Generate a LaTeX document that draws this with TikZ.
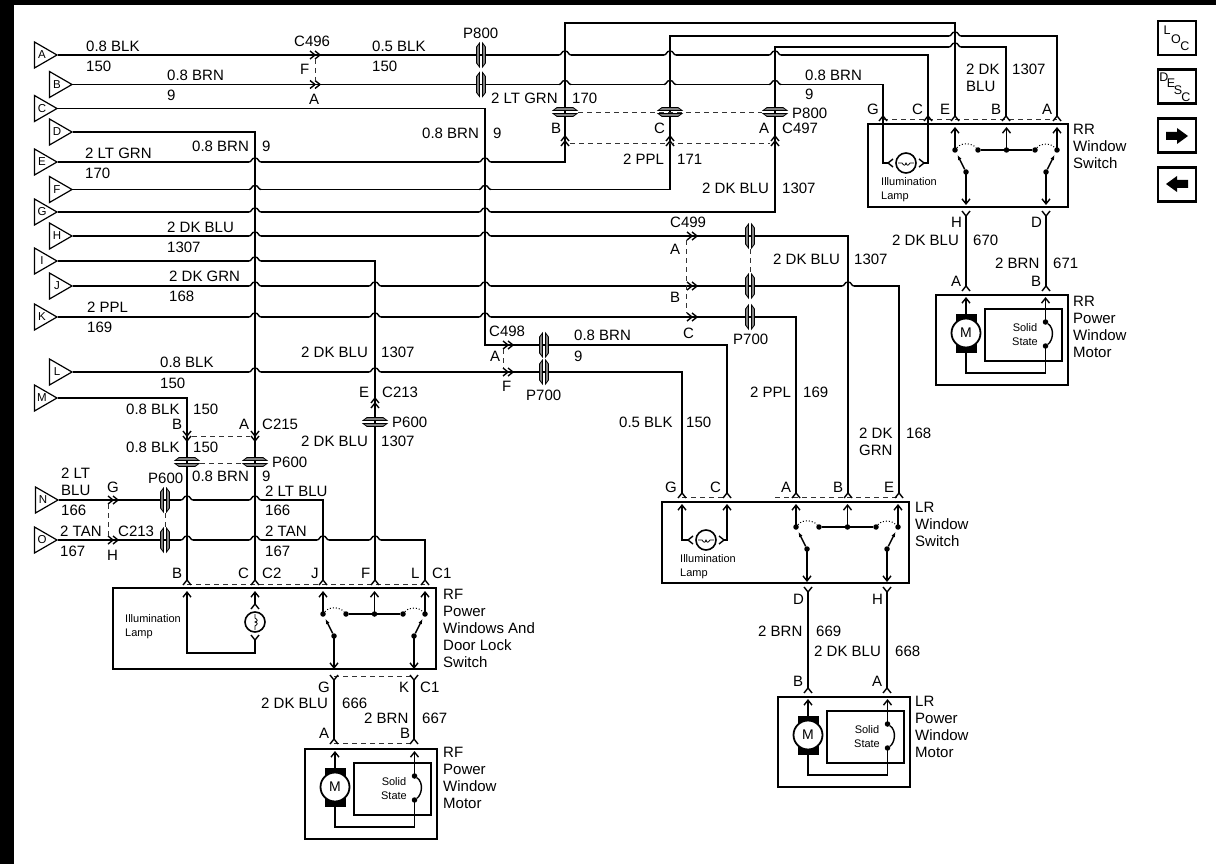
\documentclass[tikz,border=0pt]{standalone}
\usepackage{fontspec}
\setmainfont{Liberation Sans}
\usetikzlibrary{arrows.meta,shapes.geometric}

\tikzset{
  wire/.style={line width=1.4pt,line join=miter},
  hint/.style={line width=1pt,dash pattern=on 5pt off 4pt,black!80},
  barb/.style={-{Straight Barb[length=5pt,width=8pt]}},
  lbl/.style={anchor=west,inner sep=0pt,text height=10.7pt,text depth=0pt,font=\fontsize{15}{17}\selectfont},
  mlbl/.style={anchor=north west,inner sep=0pt,align=left,font=\fontsize{15}{17}\selectfont},
  slbl/.style={anchor=north west,inner sep=0pt,align=left,font=\fontsize{11}{14}\selectfont},
  ctxt/.style={inner sep=0pt,font=\fontsize{11}{14}\selectfont},
  icontxt/.style={inner sep=0pt,font=\fontsize{12.5}{14}\selectfont},
  term/.style={draw,line width=1.2pt,regular polygon,regular polygon sides=3,shape border rotate=-90,
    minimum size=30pt,inner sep=0pt,font=\fontsize{11.5}{12}\selectfont},
  modbox/.style={draw,line width=2.6pt,inner sep=0pt},
  iconbox/.style={draw,line width=2.6pt,inner sep=0pt,minimum width=38pt,minimum height=34pt},
  dot/.style={circle,fill,inner sep=0pt,minimum size=5.5pt},
  chev/.pic={\draw[wire] (-5,-4) -- (0,0) -- (-5,4);},
  dblchev/.pic={\draw[wire] (-5,-4) -- (0,0) -- (-5,4) (0,-4) -- (5,0) -- (0,4);},
  hop/.pic={\fill[white] (-6,-1.5) rectangle (6,1.5);
    \draw[wire] (-6,0) .. controls (-3,0) and (-4,-4) .. (0,-4) .. controls (4,-4) and (3,0) .. (6,0);
    \draw[wire] (0,-6) -- (0,6);},
  capsule/.pic={\fill[white] (-1.5,-9) rectangle (1.5,9);
    \draw[line width=.8pt,fill=black!50] (-4.5,-8) -- (-1.5,-12) -- (-1.5,12) -- (-4.5,8) -- cycle;
    \draw[line width=.8pt,fill=black!50] (4.5,-8) -- (1.5,-12) -- (1.5,12) -- (4.5,8) -- cycle;
    \draw[wire] (-1.5,0) -- (1.5,0);},
  lamp/.pic={\draw[line width=1.6pt] (0,0) circle (10);
    \draw[line width=.8pt] (-8,0) -- (-4,0) .. controls (-2,3) and (-1,3) .. (0,0) .. controls (1,3) and (2,3) .. (4,0) -- (8,0);
    \draw[wire] (-13,-4) -- (-18,0) -- (-13,4) (13,-4) -- (18,0) -- (13,4);
    \coordinate (-w) at (-18,0);
    \coordinate (-e) at (18,0);},
  winsw/.pic={\node[dot] (-l) at (0,0) {};
    \node[dot] (-a) at (23,0) {};
    \node[dot] (-m) at (51.5,0) {};
    \node[dot] (-b) at (80,0) {};
    \node[dot] (-r) at (102,0) {};
    \node[dot] (-p) at (11,22) {};
    \node[dot] (-q) at (91,22) {};
    \coordinate (-tl) at (0,-23);
    \coordinate (-tm) at (51.5,-23);
    \coordinate (-tr) at (102,-23);
    \coordinate (-bl) at (11,55);
    \coordinate (-br) at (91,55);
    \coordinate (-u) at (2.5,5);
    \coordinate (-v) at (99.5,5);
    \draw[wire,barb] (-l.center) -- (-tl);
    \draw[wire,barb] (-m.center) -- (-tm);
    \draw[wire,barb] (-r.center) -- (-tr);
    \draw[wire,barb] (-p.center) -- (-bl);
    \draw[wire,barb] (-q.center) -- (-br);
    \draw[wire] (-a) -- (-b);
    \draw[wire,-{Latex[length=5pt,width=4pt]}] (-p) -- (-u);
    \draw[wire,-{Latex[length=5pt,width=4pt]}] (-q) -- (-v);
    \draw[line width=1pt,dotted] (-l) to[out=50,in=130] (-a);
    \draw[line width=1pt,dotted] (-b) to[out=50,in=130] (-r);},
  winmot/.pic={\node[modbox,minimum width=132pt,minimum height=90pt] (-box) at (36,7) {};
    \node[modbox,minimum width=77pt,minimum height=52pt] (-ss) at (57.5,2) {};
    \fill (-10,-19) rectangle (11,20);
    \coordinate (-ta) at (0,-36);
    \coordinate (-tb) at (79.5,-36);
    \coordinate (-cl) at (0,40);
    \coordinate (-cr) at (79.5,40);
    \node[dot] (-d1) at (79.5,-11) {};
    \node[dot] (-d2) at (79.5,13) {};
    \draw[wire,barb] (0,0) -- (-ta);
    \draw[wire] (0,0) -- (-cl) -- (-cr) -- (-d2.center);
    \draw[wire,barb] (-d1.center) -- (-tb);
    \draw[wire] (-d1) to[out=-35,in=35] (-d2);
    \node[circle,draw,line width=1.8pt,fill=white,minimum size=29pt,inner sep=0pt,font=\fontsize{14}{14}\selectfont] (-mm) at (0,0) {M};
    \node[ctxt] (-s1) at (59,-5) {Solid};
    \node[ctxt] (-s2) at (59,9) {State};},
}

\begin{document}
\begin{tikzpicture}[x=1pt,y=-1pt]
\useasboundingbox (0,0) rectangle (1216,864);
\fill[white] (0,0) rectangle (1216,864);
\fill (0,0) rectangle (1216,4.7);
\fill (0,0) rectangle (14,864);

% harness side
\node[term] (tA) at (42,55) {A};
\node[term] (tB) at (57,84.5) {B};
\node[term] (tC) at (42,108.5) {C};
\node[term] (tD) at (57,132) {D};
\node[term] (tE) at (42,162) {E};
\node[term] (tF) at (57,189.5) {F};
\node[term] (tG) at (42,212) {G};
\node[term] (tH) at (57,236) {H};
\node[term] (tI) at (42,261) {I};
\node[term] (tJ) at (57,286) {J};
\node[term] (tK) at (42,317) {K};
\node[term] (tL) at (57,372) {L};
\node[term] (tM) at (42,398) {M};
\node[term] (tN) at (43,500) {N};
\node[term] (tO) at (42,540) {O};

% pins
\coordinate (rrG) at (883,116);
\coordinate (rrC) at (928,116);
\coordinate (rrE) at (955,116);
\coordinate (rrB) at (1006,116);
\coordinate (rrA) at (1057,116);
\coordinate (lrG) at (682,493);
\coordinate (lrC) at (727,493);
\coordinate (lrA) at (796,493);
\coordinate (lrB) at (848,493);
\coordinate (lrE) at (899,493);
\coordinate (rfB) at (187,580);
\coordinate (rfC) at (255,580);
\coordinate (rfJ) at (323,580);
\coordinate (rfF) at (375,580);
\coordinate (rfL) at (425,580);
\coordinate (topE) at (565,23);
\coordinate (topF) at (670,36);
\coordinate (topG) at (775,47);
\coordinate (midC) at (485,345);

% wires
\draw[wire] (tA.east) -| (rrC);
\draw[wire] (tB.east) -| (rrG);
\draw[wire] (tC.east) -| (midC) -| (lrC);
\draw[wire] (tD.east) -| (rfC);
\draw[wire] (tE.east) -| (topE) -| (rrE);
\draw[wire] (tF.east) -| (topF) -| (rrA);
\draw[wire] (tG.east) -| (topG) -| (rrB);
\draw[wire] (tH.east) -| (lrB);
\draw[wire] (tI.east) -| (rfF);
\draw[wire] (tJ.east) -| (lrE);
\draw[wire] (tK.east) -| (lrA);
\draw[wire] (tL.east) -| (lrG);
\draw[wire] (tM.east) -| (rfB);
\draw[wire] (tN.east) -| (rfJ);
\draw[wire] (tO.east) -| (rfL);

% crossings
\pic at (255,162) {hop};
\pic at (255,189.5) {hop};
\pic at (255,212) {hop};
\pic at (255,236) {hop};
\pic at (255,261) {hop};
\pic at (255,286) {hop};
\pic at (255,317) {hop};
\pic at (255,372) {hop};
\pic at (255,500) {hop};
\pic at (255,540) {hop};
\pic at (375,286) {hop};
\pic at (375,317) {hop};
\pic at (375,372) {hop};
\pic at (375,540) {hop};
\pic at (485,162) {hop};
\pic at (485,189.5) {hop};
\pic at (485,212) {hop};
\pic at (485,236) {hop};
\pic at (485,286) {hop};
\pic at (485,317) {hop};
\pic at (565,55) {hop};
\pic at (565,84.5) {hop};
\pic at (670,55) {hop};
\pic at (670,84.5) {hop};
\pic at (775,55) {hop};
\pic at (775,84.5) {hop};
\pic at (955,36) {hop};
\pic at (955,47) {hop};
\pic at (848,286) {hop};
\pic at (187,500) {hop};
\pic at (187,540) {hop};
\pic at (323,540) {hop};

% inline connectors
\pic at (315,55) {dblchev};
\pic at (315,84.5) {dblchev};
\pic at (692,236) {dblchev};
\pic at (692,286) {dblchev};
\pic at (692,317) {dblchev};
\pic at (508,345) {dblchev};
\pic at (508,372) {dblchev};
\pic at (113,500) {dblchev};
\pic at (113,540) {dblchev};
\pic[rotate=90] at (565,141) {dblchev};
\pic[rotate=90] at (670,141) {dblchev};
\pic[rotate=90] at (775,141) {dblchev};
\pic[rotate=-90] at (187,436) {dblchev};
\pic[rotate=-90] at (255,436) {dblchev};
\pic[rotate=90] at (375,403) {dblchev};
\pic at (481,55) {capsule};
\pic at (481,84.5) {capsule};
\pic at (750,236) {capsule};
\pic at (750,286) {capsule};
\pic at (750,317) {capsule};
\pic at (544,345) {capsule};
\pic at (544,372) {capsule};
\pic at (165,500) {capsule};
\pic at (165,540) {capsule};
\pic[rotate=90] at (565,112) {capsule};
\pic[rotate=90] at (670,112) {capsule};
\pic[rotate=90] at (775,112) {capsule};
\pic[rotate=90] at (187,462) {capsule};
\pic[rotate=90] at (255,462) {capsule};
\pic[rotate=90] at (375,422) {capsule};

% dashed ties
\coordinate (d1a) at (315,59);
\coordinate (d1b) at (315,81);
\coordinate (d2a) at (686,240);
\coordinate (d2b) at (686,313);
\coordinate (d3a) at (503,349);
\coordinate (d3b) at (503,368);
\coordinate (d4a) at (108,504);
\coordinate (d4b) at (108,536);
\coordinate (d5a) at (165,513);
\coordinate (d5b) at (165,527);
\coordinate (d6a) at (750,249);
\coordinate (d6b) at (750,273);
\coordinate (d7a) at (578,113);
\coordinate (d7b) at (762,113);
\coordinate (d8a) at (570,144);
\coordinate (d8b) at (770,144);
\coordinate (d9a) at (192,436);
\coordinate (d9b) at (250,436);
\coordinate (d10a) at (200,463);
\coordinate (d10b) at (242,463);
\coordinate (d11a) at (187,584);
\coordinate (d11b) at (425,584);
\coordinate (d12a) at (883,120);
\coordinate (d12b) at (1057,120);
\coordinate (d13a) at (682,497);
\coordinate (d13b) at (727,497);
\coordinate (d14a) at (775,497);
\coordinate (d14b) at (899,497);
\coordinate (d15a) at (334,676);
\coordinate (d15b) at (414,676);
\coordinate (d16a) at (334,743);
\coordinate (d16b) at (414,743);
\draw[hint] (d1a) -- (d1b);
\draw[hint] (d2a) -- (d2b);
\draw[hint] (d3a) -- (d3b);
\draw[hint] (d4a) -- (d4b);
\draw[hint] (d5a) -- (d5b);
\draw[hint] (d6a) -- (d6b);
\draw[hint] (d7a) -- (d7b);
\draw[hint] (d8a) -- (d8b);
\draw[hint] (d9a) -- (d9b);
\draw[hint] (d10a) -- (d10b);
\draw[hint] (d11a) -- (d11b);
\draw[hint] (d12a) -- (d12b);
\draw[hint] (d13a) -- (d13b);
\draw[hint] (d14a) -- (d14b);
\draw[hint] (d15a) -- (d15b);
\draw[hint] (d16a) -- (d16b);

% pin carets on the modules
\pic[rotate=90] at (rrG) {chev};
\pic[rotate=90] at (rrC) {chev};
\pic[rotate=90] at (rrE) {chev};
\pic[rotate=90] at (rrB) {chev};
\pic[rotate=90] at (rrA) {chev};
\pic[rotate=90] at (lrG) {chev};
\pic[rotate=90] at (lrC) {chev};
\pic[rotate=90] at (lrA) {chev};
\pic[rotate=90] at (lrB) {chev};
\pic[rotate=90] at (lrE) {chev};
\pic[rotate=90] at (rfB) {chev};
\pic[rotate=90] at (rfC) {chev};
\pic[rotate=90] at (rfJ) {chev};
\pic[rotate=90] at (rfF) {chev};
\pic[rotate=90] at (rfL) {chev};

% RR switch and motor
\node[modbox,minimum width=200pt,minimum height=83pt] (rrSw) at (968,165.5) {};
\pic (rrLamp) at (906,163) {lamp};
\pic (rrS) at (955,150) {winsw};
\draw[wire] (rrG) |- (rrLamp-w);
\draw[wire] (rrC) |- (rrLamp-e);
\pic (rrM) at (966,333) {winmot};
\coordinate (rrH) at (966,216);
\coordinate (rrD) at (1046,216);
\coordinate (rrMa) at (966,286);
\coordinate (rrMb) at (1046,286);
\draw[wire] (rrH) -- (rrMa);
\draw[wire] (rrD) -- (rrMb);
\pic[rotate=-90] at (rrH) {chev};
\pic[rotate=-90] at (rrD) {chev};
\pic[rotate=90] at (rrMa) {chev};
\pic[rotate=90] at (rrMb) {chev};

% LR switch and motor
\node[modbox,minimum width=247pt,minimum height=81pt] (lrSw) at (785.5,542.5) {};
\pic (lrLamp) at (706,540) {lamp};
\pic (lrS) at (796,527) {winsw};
\coordinate (lrGi) at (682,504);
\coordinate (lrCi) at (727,504);
\draw[wire,barb] (lrLamp-w) -| (lrGi);
\draw[wire,barb] (lrLamp-e) -| (lrCi);
\pic (lrM) at (808,735) {winmot};
\coordinate (lrD) at (808,592);
\coordinate (lrH) at (887,592);
\coordinate (lrMb) at (808,688);
\coordinate (lrMa) at (887,688);
\draw[wire] (lrD) -- (lrMb);
\draw[wire] (lrH) -- (lrMa);
\pic[rotate=-90] at (lrD) {chev};
\pic[rotate=-90] at (lrH) {chev};
\pic[rotate=90] at (lrMb) {chev};
\pic[rotate=90] at (lrMa) {chev};

% RF switch and motor
\node[modbox,minimum width=323pt,minimum height=81pt] (rfSw) at (274.5,628.5) {};
\pic[rotate=90] (rfLamp) at (255,622) {lamp};
\pic (rfS) at (323,614) {winsw};
\coordinate (rfBi) at (187,591);
\coordinate (rfCi) at (255,591);
\coordinate (rfCor) at (255,653);
\draw[wire,barb] (rfLamp-w) -- (rfCor) -| (rfBi);
\draw[wire,barb] (rfLamp-e) -- (rfCi);
\pic (rfM) at (335,787) {winmot};
\coordinate (rfG) at (334,680);
\coordinate (rfK) at (414,680);
\coordinate (rfMa) at (334,739);
\coordinate (rfMb) at (414,739);
\draw[wire] (rfG) -- (rfMa);
\draw[wire] (rfK) -- (rfMb);
\pic[rotate=-90] at (rfG) {chev};
\pic[rotate=-90] at (rfK) {chev};
\pic[rotate=90] at (rfMa) {chev};
\pic[rotate=90] at (rfMb) {chev};

% wire labels
\node[lbl] (la1) at (86,46) {0.8 BLK};
\node[lbl] (la2) at (86,66) {150};
\node[lbl] (lb1) at (167,75) {0.8 BRN};
\node[lbl] (lb2) at (167,95) {9};
\node[lbl] (lc1) at (294,41) {C496};
\node[lbl] (lc2) at (300,69) {F};
\node[lbl] (lc3) at (309,99) {A};
\node[lbl] (ld1) at (192,146) {0.8 BRN};
\node[lbl] (ld2) at (262,146) {9};
\node[lbl] (le1) at (85,153) {2 LT GRN};
\node[lbl] (le2) at (85,173) {170};
\node[lbl] (lh1) at (167,227) {2 DK BLU};
\node[lbl] (lh2) at (167,247) {1307};
\node[lbl] (lj1) at (169,276) {2 DK GRN};
\node[lbl] (lj2) at (169,296) {168};
\node[lbl] (lk1) at (87,307) {2 PPL};
\node[lbl] (lk2) at (87,327) {169};
\node[lbl] (li1) at (301,352) {2 DK BLU};
\node[lbl] (li2) at (381,352) {1307};
\node[lbl] (ll1) at (160,362) {0.8 BLK};
\node[lbl] (ll2) at (160,383) {150};
\node[lbl] (le3) at (359,392) {E};
\node[lbl] (le4) at (382,392) {C213};
\node[lbl] (lp1) at (392,422) {P600};
\node[lbl] (li3) at (301,441) {2 DK BLU};
\node[lbl] (li4) at (381,441) {1307};
\node[lbl] (lm1) at (126,409) {0.8 BLK};
\node[lbl] (lm2) at (193,409) {150};
\node[lbl] (lm3) at (172,424) {B};
\node[lbl] (ld3) at (239,424) {A};
\node[lbl] (ld4) at (262,424) {C215};
\node[lbl] (lm4) at (126,447) {0.8 BLK};
\node[lbl] (lm5) at (193,447) {150};
\node[lbl] (lp2) at (272,462) {P600};
\node[lbl] (lp3) at (148,478) {P600};
\node[lbl] (ld5) at (192,476) {0.8 BRN};
\node[lbl] (ld6) at (262,476) {9};
\node[mlbl] (ln1) at (61,467.5) {2 LT\\BLU};
\node[lbl] (ln2) at (61,510) {166};
\node[lbl] (ln3) at (107,487) {G};
\node[lbl] (ln4) at (265,491) {2 LT BLU};
\node[lbl] (ln5) at (265,510) {166};
\node[lbl] (lo1) at (60,531) {2 TAN};
\node[lbl] (lo2) at (60,551) {167};
\node[lbl] (lo3) at (118,531) {C213};
\node[lbl] (lo4) at (107,555) {H};
\node[lbl] (lo5) at (265,531) {2 TAN};
\node[lbl] (lo6) at (265,551) {167};
\node[lbl] (lq1) at (463,33) {P800};
\node[lbl] (la3) at (372,46) {0.5 BLK};
\node[lbl] (la4) at (372,66) {150};
\node[lbl] (le5) at (491,98) {2 LT GRN};
\node[lbl] (le6) at (572,98) {170};
\node[lbl] (lc4) at (422,133) {0.8 BRN};
\node[lbl] (lc5) at (493,133) {9};
\node[lbl] (lq2) at (551,128) {B};
\node[lbl] (lq3) at (654,128) {C};
\node[lbl] (lq4) at (759,128) {A};
\node[lbl] (lq5) at (782,128) {C497};
\node[lbl] (lq6) at (792,113) {P800};
\node[lbl] (lf1) at (623,159) {2 PPL};
\node[lbl] (lf2) at (677,159) {171};
\node[lbl] (lg1) at (702,188) {2 DK BLU};
\node[lbl] (lg2) at (782,188) {1307};
\node[lbl] (lr1) at (670,222) {C499};
\node[lbl] (lr2) at (670,249) {A};
\node[lbl] (lr3) at (773,259) {2 DK BLU};
\node[lbl] (lr4) at (854,259) {1307};
\node[lbl] (lr5) at (670,297) {B};
\node[lbl] (lr6) at (683,333) {C};
\node[lbl] (lr7) at (733,339) {P700};
\node[lbl] (ls1) at (489,331) {C498};
\node[lbl] (ls2) at (490,356) {A};
\node[lbl] (ls3) at (574,335) {0.8 BRN};
\node[lbl] (ls4) at (574,356) {9};
\node[lbl] (ls5) at (502,386) {F};
\node[lbl] (ls6) at (526,395) {P700};
\node[lbl] (ls7) at (619,422) {0.5 BLK};
\node[lbl] (ls8) at (686,422) {150};
\node[lbl] (lt1) at (750,392) {2 PPL};
\node[lbl] (lt2) at (803,392) {169};
\node[mlbl] (lt3) at (859,427.5) {2 DK\\GRN};
\node[lbl] (lt4) at (906,433) {168};
\node[lbl] (lu1) at (805,75) {0.8 BRN};
\node[lbl] (lu2) at (805,94) {9};
\node[mlbl] (lu3) at (966,63.5) {2 DK\\BLU};
\node[lbl] (lu4) at (1012,69) {1307};

% pin letters
\node[lbl] (pr1) at (867,109) {G};
\node[lbl] (pr2) at (912,109) {C};
\node[lbl] (pr3) at (940,109) {E};
\node[lbl] (pr4) at (991,109) {B};
\node[lbl] (pr5) at (1042,109) {A};
\node[lbl] (pr6) at (951,222) {H};
\node[lbl] (pr7) at (1031,222) {D};
\node[lbl] (pr8) at (892,240) {2 DK BLU};
\node[lbl] (pr9) at (973,240) {670};
\node[lbl] (pr10) at (995,263) {2 BRN};
\node[lbl] (pr11) at (1053,263) {671};
\node[lbl] (pr12) at (951,281) {A};
\node[lbl] (pr13) at (1031,281) {B};
\node[lbl] (pl1) at (665,487) {G};
\node[lbl] (pl2) at (710,487) {C};
\node[lbl] (pl3) at (781,487) {A};
\node[lbl] (pl4) at (833,487) {B};
\node[lbl] (pl5) at (884,487) {E};
\node[lbl] (pl6) at (793,599) {D};
\node[lbl] (pl7) at (872,599) {H};
\node[lbl] (pl8) at (758,631) {2 BRN};
\node[lbl] (pl9) at (816,631) {669};
\node[lbl] (pl10) at (814,651) {2 DK BLU};
\node[lbl] (pl11) at (895,651) {668};
\node[lbl] (pl12) at (793,681) {B};
\node[lbl] (pl13) at (872,681) {A};
\node[lbl] (pf1) at (172,573) {B};
\node[lbl] (pf2) at (238,573) {C};
\node[lbl] (pf3) at (262,573) {C2};
\node[lbl] (pf4) at (311,573) {J};
\node[lbl] (pf5) at (361,573) {F};
\node[lbl] (pf6) at (411,573) {L};
\node[lbl] (pf7) at (432,573) {C1};
\node[lbl] (pf8) at (318,687) {G};
\node[lbl] (pf9) at (399,687) {K};
\node[lbl] (pf10) at (420,687) {C1};
\node[lbl] (pf11) at (261,703) {2 DK BLU};
\node[lbl] (pf12) at (342,703) {666};
\node[lbl] (pf13) at (364,718) {2 BRN};
\node[lbl] (pf14) at (422,718) {667};
\node[lbl] (pf15) at (319,733) {A};
\node[lbl] (pf16) at (400,733) {B};

% module names
\node[mlbl] (nRRs) at (1073,123.5) {RR\\Window\\Switch};
\node[mlbl] (nRRm) at (1073,295.5) {RR\\Power\\Window\\Motor};
\node[mlbl] (nLRs) at (915,501.5) {LR\\Window\\Switch};
\node[mlbl] (nLRm) at (915,695.5) {LR\\Power\\Window\\Motor};
\node[mlbl] (nRFs) at (443,588.5) {RF\\Power\\Windows And\\Door Lock\\Switch};
\node[mlbl] (nRFm) at (443,746.5) {RF\\Power\\Window\\Motor};
\node[slbl] (iRR) at (881,177) {Illumination\\Lamp};
\node[slbl] (iLR) at (680,554) {Illumination\\Lamp};
\node[slbl] (iRF) at (125,614) {Illumination\\Lamp};

% icons
\node[iconbox] (iLoc) at (1177,38) {};
\node[iconbox] (iDesc) at (1177,86.5) {};
\node[iconbox] (iNext) at (1177,135.5) {};
\node[iconbox] (iPrev) at (1177,184.5) {};
\node[icontxt] (c1) at (1167,30) {L};
\node[icontxt] (c2) at (1176,39) {O};
\node[icontxt] (c3) at (1185,46) {C};
\node[icontxt] (c4) at (1164,77) {D};
\node[icontxt] (c5) at (1171,83) {E};
\node[icontxt] (c6) at (1178,90) {S};
\node[icontxt] (c7) at (1186,97) {C};
\fill (1166,132) -- (1177,132) -- (1177,128) -- (1188,136) -- (1177,144) -- (1177,140) -- (1166,140) -- cycle;
\fill (1188,180) -- (1177,180) -- (1177,176) -- (1166,184) -- (1177,192) -- (1177,188) -- (1188,188) -- cycle;
\end{tikzpicture}
\end{document}
